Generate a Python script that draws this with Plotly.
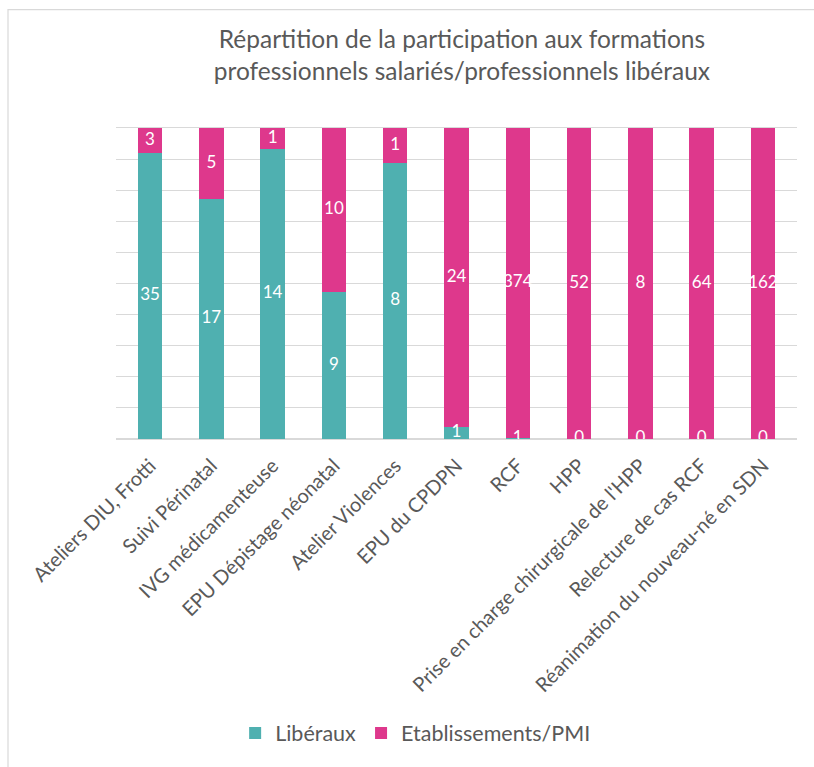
import plotly.graph_objects as go

# Participation aux formations : libéraux vs établissements/PMI
categories = [
    "Ateliers DIU, Frotti",
    "Suivi Périnatal",
    "IVG médicamenteuse",
    "EPU Dépistage néonatal",
    "Atelier Violences",
    "EPU du CPDPN",
    "RCF",
    "HPP",
    "Prise en charge chirurgicale de l'HPP",
    "Relecture de cas RCF",
    "Réanimation du nouveau-né en SDN",
]
liberaux = [35, 17, 14, 9, 8, 1, 1, 0, 0, 0, 0]
etablissements = [3, 5, 1, 10, 1, 24, 374, 52, 8, 64, 162]

TEAL = "#4FB0B0"
PINK = "#DE388C"
GREY_TXT = "#595959"
GRID = "#D9D9D9"
FONT = "Lato, 'Open Sans', sans-serif"

# segment midpoints in percent, used to place the value labels
lib_pct = [l / (l + e) * 100 for l, e in zip(liberaux, etablissements)]
lib_mid = [p / 2 for p in lib_pct]
etab_mid = [p + (100 - p) / 2 for p in lib_pct]

fig = go.Figure()
fig.add_trace(go.Bar(
    x=categories, y=liberaux, name="Libéraux",
    marker=dict(color=TEAL, line=dict(width=0)), hoverinfo="skip",
))
fig.add_trace(go.Bar(
    x=categories, y=etablissements, name="Etablissements/PMI",
    marker=dict(color=PINK, line=dict(width=0)), hoverinfo="skip",
))

# value labels, clipped to the plot area
for mids, vals in ((lib_mid, liberaux), (etab_mid, etablissements)):
    fig.add_trace(go.Scatter(
        x=categories, y=mids, text=[str(v) for v in vals],
        mode="text", textposition="middle center",
        textfont=dict(family=FONT, size=17, color="white"),
        cliponaxis=True, showlegend=False, hoverinfo="skip",
    ))

fig.update_layout(
    width=814, height=767,
    barmode="stack", barnorm="percent", bargap=0.6,
    paper_bgcolor="white", plot_bgcolor="white",
    margin=dict(l=116, r=17, t=128, b=328, autoexpand=False),
    font=dict(family=FONT, color=GREY_TXT),
    title=dict(
        text="Répartition de la participation aux formations<br>professionnels salariés/professionnels libéraux",
        x=0.508, xref="paper", xanchor="center",
        y=1 - 48 / 767, yref="container", yanchor="middle",
        font=dict(family=FONT, size=24.5, color=GREY_TXT),
    ),
    legend=dict(
        orientation="h", x=0.44, xanchor="center", xref="paper",
        y=1 - 733 / 767, yref="container", yanchor="middle",
        font=dict(family=FONT, size=21.5, color=GREY_TXT),
        itemwidth=30, traceorder="normal",
    ),
    xaxis=dict(
        tickangle=-45, tickfont=dict(family=FONT, size=20, color=GREY_TXT),
        showgrid=False, ticks="", automargin=False,
        showline=True, mirror=True, linecolor=GRID, linewidth=1.4,
        ticklabelstandoff=6,
    ),
    yaxis=dict(
        range=[0, 100], dtick=10, showticklabels=False,
        showgrid=True, gridcolor=GRID, gridwidth=1.4,
        zeroline=True, zerolinecolor=GRID, zerolinewidth=1.6,
        showline=False, automargin=False, fixedrange=True,
    ),
    shapes=[dict(
        type="rect", xref="paper", yref="paper",
        x0=(8 - 116) / 681, x1=1.3, y0=-1.4, y1=(439.3 - 9) / 311.6,
        line=dict(color="#D9D9D9", width=1.2), fillcolor="rgba(0,0,0,0)",
        layer="below",
    )],
)

fig.write_html("out.html")
